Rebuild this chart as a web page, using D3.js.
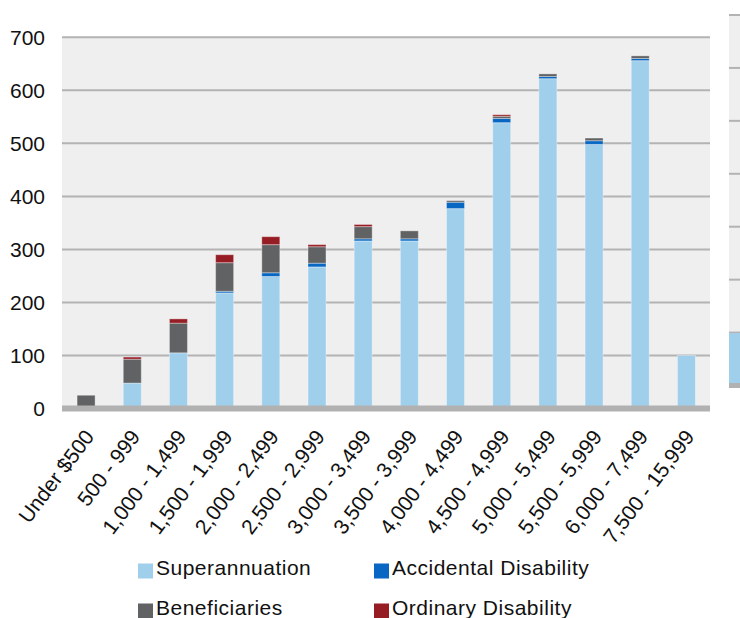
<!DOCTYPE html>
<html>
<head>
<meta charset="utf-8">
<script src="https://cdn.jsdelivr.net/npm/d3@7"></script>
<style>
  html, body { margin: 0; padding: 0; background: #fff; }
  svg { display: block; font-family: "Liberation Sans", Arial, sans-serif; }
</style>
</head>
<body>
<svg id="chart" width="740" height="618"></svg>
<script>
// Monthly benefit bands and recipient counts by retirement type
const categories = ["Under $500", "500 - 999", "1,000 - 1,499", "1,500 - 1,999", "2,000 - 2,499",
  "2,500 - 2,999", "3,000 - 3,499", "3,500 - 3,999", "4,000 - 4,499", "4,500 - 4,999",
  "5,000 - 5,499", "5,500 - 5,999", "6,000 - 7,499", "7,500 - 15,999"];
const superannuation = [0, 48, 105, 218, 249, 267, 316, 316, 377, 539, 622, 498, 656, 100];
const accidental     = [0, 0, 0, 3, 7, 7, 4, 4, 12, 8, 4, 7, 4, 0];
const beneficiaries  = [25, 45, 56, 54, 53, 31, 23, 15, 3, 4, 5, 5, 5, 0];
const ordinary       = [0, 4, 8, 15, 15, 4, 4, 0, 0, 3, 0, 0, 0, 0];
const seriesNames = ["Superannuation", "Accidental Disability", "Beneficiaries", "Ordinary Disability"];
const seriesColors = ["#a0cfeb", "#0867c3", "#616264", "#961d24"];
const yTicks = [0, 100, 200, 300, 400, 500, 600, 700];

// Neighbouring panel (partly visible at the right edge)
const nextCategories = ["Under $500"];
const nextValues = [99];

const svg = d3.select("#chart");

const rows = categories.map((c, i) => ({
  cat: c,
  "Superannuation": superannuation[i],
  "Accidental Disability": accidental[i],
  "Beneficiaries": beneficiaries[i],
  "Ordinary Disability": ordinary[i]
}));
const stacked = d3.stack().keys(seriesNames)(rows);

const x = d3.scaleBand().domain(categories).range([63, 709.5])
  .paddingInner(0.61).paddingOuter(0.305);
const y = d3.scaleLinear().domain([0, 700]).range([408.5, 37.3]);
const color = d3.scaleOrdinal().domain(seriesNames).range(seriesColors);

// plot area background
svg.append("rect")
  .attr("x", 62).attr("y", y(700))
  .attr("width", 710 - 62).attr("height", y(0) - y(700))
  .attr("fill", "#efefef");

// horizontal gridlines
svg.append("g").selectAll("line").data(yTicks.filter(t => t > 0)).join("line")
  .attr("x1", 62).attr("x2", 710)
  .attr("y1", d => y(d)).attr("y2", d => y(d))
  .attr("stroke", "#b3b3b3").attr("stroke-width", 2);

// stacked bars
svg.append("g").selectAll("g").data(stacked).join("g")
  .attr("fill", d => color(d.key))
  .selectAll("rect").data(d => d.filter(s => s[1] - s[0] > 0)).join("rect")
  .attr("x", d => x(d.data.cat))
  .attr("width", x.bandwidth())
  .attr("y", d => y(d[1]))
  .attr("height", d => y(d[0]) - y(d[1]))
  .attr("stroke", "rgba(255,255,255,0.35)")
  .attr("stroke-width", 1);

// category axis band
svg.append("rect")
  .attr("x", 62).attr("y", y(0) - 3)
  .attr("width", 710 - 62).attr("height", 6)
  .attr("fill", "#b1b1b1");

// value axis labels
svg.append("g").selectAll("text").data(yTicks).join("text")
  .attr("x", 45).attr("y", d => y(d))
  .attr("dy", "0.35em")
  .attr("text-anchor", "end")
  .attr("font-size", 21)
  .attr("fill", "#111")
  .text(d => d);

// rotated category labels
svg.append("g").selectAll("text").data(categories).join("text")
  .attr("transform", d => `translate(${x(d) + x.bandwidth() / 2 + 3},${y(0) + 24}) rotate(-53)`)
  .attr("text-anchor", "end")
  .attr("dy", "0.35em")
  .attr("font-size", 21)
  .attr("fill", "#111")
  .text(d => d);

// legend
const legendPos = [[138, 568], [374, 568], [138, 608], [374, 608]];
const legend = svg.append("g").selectAll("g").data(seriesNames).join("g")
  .attr("transform", (d, i) => `translate(${legendPos[i][0]},${legendPos[i][1]})`);
legend.append("rect")
  .attr("x", 0).attr("y", -4.5).attr("width", 15).attr("height", 15)
  .attr("fill", d => color(d));
legend.append("text")
  .attr("x", 18).attr("y", 0).attr("dy", "0.35em")
  .attr("font-size", 21)
  .attr("letter-spacing", 0.5)
  .attr("fill", "#111")
  .text(d => d);

// neighbouring panel, clipped by the page edge
const y2 = d3.scaleLinear().domain([0, 700]).range([385.5, 15]);
const x2 = d3.scaleBand().domain(nextCategories).range([729, 775]).paddingInner(0.61).paddingOuter(0);
const panel = svg.append("g");
panel.append("rect")
  .attr("x", 729).attr("y", y2(700))
  .attr("width", 20).attr("height", y2(0) - y2(700))
  .attr("fill", "#efefef");
panel.selectAll("line").data(yTicks.filter(t => t > 0)).join("line")
  .attr("x1", 729).attr("x2", 749)
  .attr("y1", d => y2(d)).attr("y2", d => y2(d))
  .attr("stroke", "#b3b3b3").attr("stroke-width", 2);
panel.selectAll("rect.bar").data(nextValues).join("rect")
  .attr("class", "bar")
  .attr("x", (d, i) => x2(nextCategories[i]) - 14)
  .attr("width", x2.bandwidth())
  .attr("y", d => y2(d))
  .attr("height", d => y2(0) - y2(d))
  .attr("fill", seriesColors[0]);
panel.append("rect")
  .attr("x", 729).attr("y", y2(0) - 2.5)
  .attr("width", 20).attr("height", 5)
  .attr("fill", "#b1b1b1");
</script>
</body>
</html>
